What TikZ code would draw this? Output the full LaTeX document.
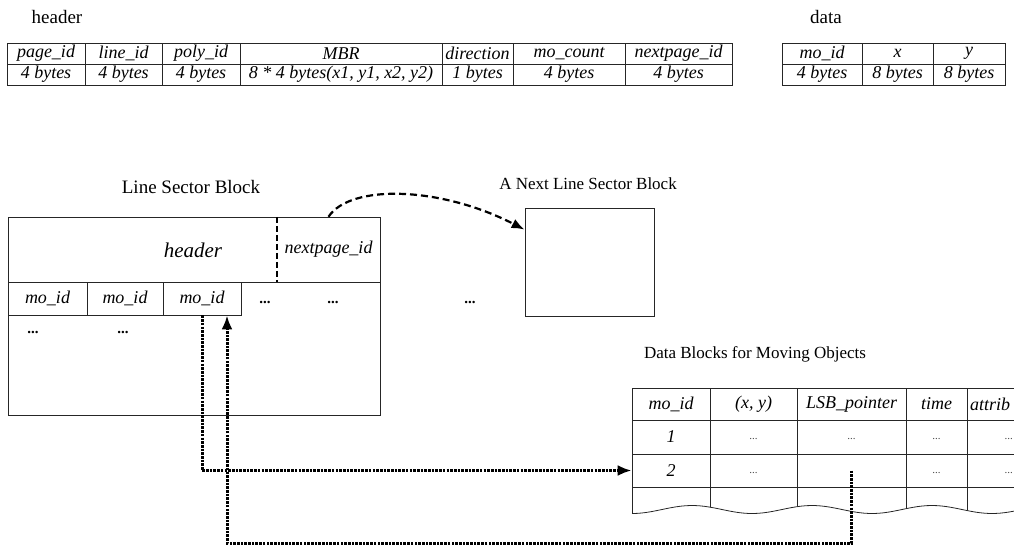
\documentclass[tikz,border=0pt]{standalone}
\usepackage{fontspec}
\setmainfont{Liberation Serif}
\usetikzlibrary{arrows.meta}
\tikzset{
  cell/.style={draw=black!85, line width=0.8pt, inner sep=0pt, anchor=center, font=\itshape\fontsize{18}{18}\selectfont},
  plain/.style={inner sep=0pt, anchor=center},
  lbl/.style={inner sep=0pt, anchor=center, font=\fontsize{17}{17}\selectfont},
  thin/.style={draw=black!85, line width=0.8pt},
  dotarrow/.style={line width=3pt, dash pattern=on 2.6pt off 1.1pt, -{Latex[length=14pt,width=11pt]}},
  dasharrow/.style={line width=2.2pt, dash pattern=on 7pt off 4pt, -{Latex[length=13pt,width=10pt]}},
  bdots/.style={inner sep=0pt, anchor=center, font=\bfseries\fontsize{15}{15}\selectfont},
  sdots/.style={inner sep=0pt, anchor=center, font=\fontsize{11}{11}\selectfont, text=black!70},
  ital/.style={inner sep=0pt, anchor=center, font=\itshape\fontsize{18}{18}\selectfont},
}
\begin{document}
\begin{tikzpicture}[x=1pt,y=-1pt]
\clip (0,0) rectangle (1014,555);
\useasboundingbox (0,0) rectangle (1014,555);

% top labels
\node[lbl, font=\fontsize{19}{19}\selectfont] (lhead) at (57,17) {header};
\node[lbl, font=\fontsize{19}{19}\selectfont] (ldata) at (826,17) {data};

% header table
\foreach \n/\cx/\w/\t/\b in {1/46/78/page\_id/4 bytes, 2/123.5/77/line\_id/4 bytes, 3/201/78/poly\_id/4 bytes, 4/341/202/MBR/{8 * 4 bytes(x1, y1, x2, y2)}, 5/477.5/71/direction/1 bytes, 6/569/112/mo\_count/4 bytes, 7/678.5/107/nextpage\_id/4 bytes}{
  \node[cell, minimum width=\w pt, minimum height=21pt] (ht\n) at (\cx,53.5) {\t};
  \node[cell, minimum width=\w pt, minimum height=21pt] (hb\n) at (\cx,74.5) {\b};
}

% data table
\foreach \n/\cx/\w/\t/\b in {1/822/80/mo\_id/4 bytes, 2/897.5/71/x/8 bytes, 3/969/72/y/8 bytes}{
  \node[cell, minimum width=\w pt, minimum height=21pt] (dt\n) at (\cx,53.5) {\t};
  \node[cell, minimum width=\w pt, minimum height=21pt] (db\n) at (\cx,74.5) {\b};
}

% Line Sector Block
\node[lbl, font=\fontsize{19}{19}\selectfont] (llsb) at (191,187) {Line Sector Block};
\node[draw=black!85, line width=0.8pt, minimum width=372pt, minimum height=198pt, inner sep=0pt] (lsb) at (194,316) {};
\draw[thin] (8,282) -- (380,282);
\node[plain, font=\itshape\fontsize{21}{21}\selectfont] (lsbhtxt) at (193,250) {header};
\node[plain, minimum width=103pt, minimum height=65pt, font=\itshape\fontsize{18}{18}\selectfont] (lsbnp) at (328.5,249.5) {nextpage\_id};
\draw[line width=1.8pt, dash pattern=on 6pt off 3pt] (lsbnp.north west) -- (lsbnp.south west);
\node[cell, minimum width=79pt, minimum height=33pt] (lc1) at (47.5,298.5) {mo\_id};
\node[cell, minimum width=76pt, minimum height=33pt] (lc2) at (125,298.5) {mo\_id};
\node[cell, minimum width=78pt, minimum height=33pt] (lc3) at (202,298.5) {mo\_id};
\node[bdots] (ld1) at (265,302) {...};
\node[bdots] (ld2) at (333,302) {...};
\node[bdots] (ld3) at (470,302) {...};
\node[bdots] (ld4) at (33,332) {...};
\node[bdots] (ld5) at (123,332) {...};

% next block
\node[lbl] (lnb) at (588,184) {A Next Line Sector Block};
\node[draw=black!85, line width=0.8pt, minimum width=129pt, minimum height=108pt, inner sep=0pt] (nb) at (589.5,262) {};
\draw[dasharrow] (lsbnp.north) .. controls (350,184) and (440,186) .. ([yshift=-22pt]nb.north west);

% data blocks table
\node[lbl] (ldb) at (755,354) {Data Blocks for Moving Objects};
\foreach \c/\cx/\w in {1/671/78, 2/753.5/87, 3/851.5/109, 4/936.5/61, 5/1033.5/133}{
  \node[cell, minimum width=\w pt, minimum height=32pt] (dh\c) at (\cx,404) {};
  \node[cell, minimum width=\w pt, minimum height=34pt] (d1\c) at (\cx,437) {};
  \node[cell, minimum width=\w pt, minimum height=33pt] (d2\c) at (\cx,470.5) {};
}
\node[ital] at (dh1) {mo\_id};
\node[ital] at (dh2) {(x, y)};
\node[ital] at (dh3) {LSB\_pointer};
\node[ital] at (dh4) {time};
\node[ital, anchor=west] at (970,404) {attrib};
\node[ital] at (d11) {1};
\node[ital] at (d21) {2};
\node[sdots] at ([yshift=-2pt]d12.center) {...};
\node[sdots] at ([yshift=-2pt]d13.center) {...};
\node[sdots] at ([yshift=-2pt]d14.center) {...};
\node[sdots, anchor=east] at (1013,439) {...};
\node[sdots] at ([yshift=-2pt]d22.center) {...};
\node[sdots] at ([yshift=-2pt]d24.center) {...};
\node[sdots, anchor=east] at (1013,472.5) {...};
\begin{scope}
  \clip (620,480) -- plot[domain=632:1014, samples=80] (\x, {509.5 - 4*sin((\x-632)*3 - 90)}) -- (1014,480) -- cycle;
  \foreach \vx in {632,710,797,906,967}{
    \draw[thin] (\vx,487) -- (\vx,530);
  }
\end{scope}
\draw[thin] plot[domain=632:1014, samples=80] (\x, {509.5 - 4*sin((\x-632)*3 - 90)});

% connectors
\coordinate (bc) at (227,543);
\draw[dotarrow] (lc3.south) |- (d21.west);
\draw[dotarrow] (d23.center) |- (bc) -- (bc |- lc3.south);
\end{tikzpicture}
\end{document}
